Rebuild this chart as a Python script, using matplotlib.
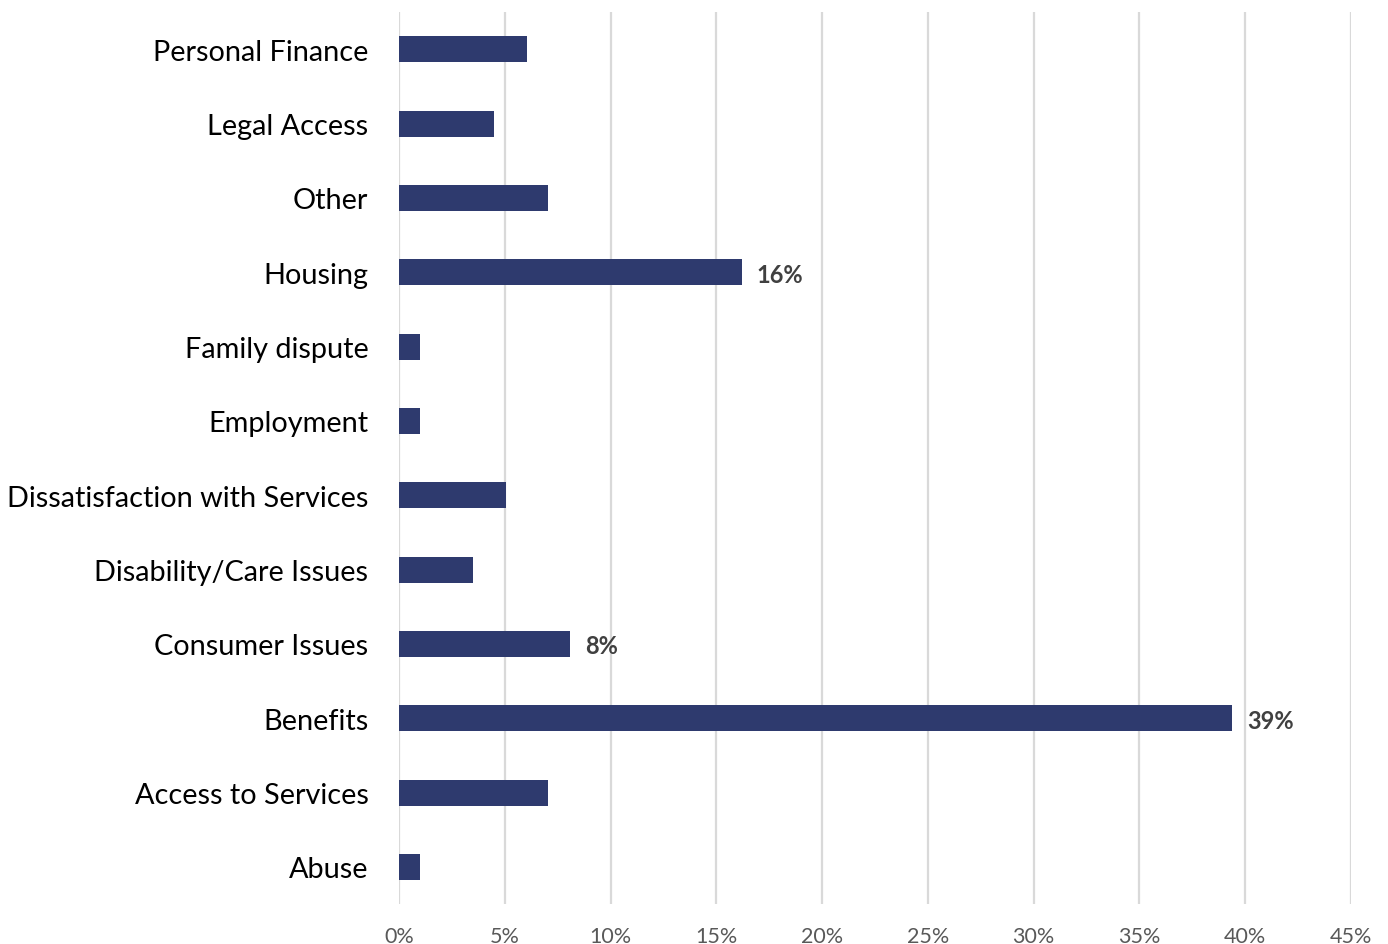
import matplotlib.pyplot as plt
from matplotlib.ticker import FuncFormatter

# issue categories, top to bottom
categories = ["Personal Finance", "Legal Access", "Other", "Housing", "Family dispute",
              "Employment", "Dissatisfaction with Services", "Disability/Care Issues",
              "Consumer Issues", "Benefits", "Access to Services", "Abuse"]
shares = [6.05, 4.5, 7.05, 16.2, 1.0, 1.0, 5.05, 3.5, 8.1, 39.4, 7.05, 1.0]
# only some bars carry a value label
labelled = {"Housing": "16%", "Consumer Issues": "8%", "Benefits": "39%"}
xticks = [0, 5, 10, 15, 20, 25, 30, 35, 40, 45]

plt.rcParams['font.family'] = ['Lato', 'DejaVu Sans']

fig = plt.figure(figsize=(13.88, 9.45), dpi=100)
ax = fig.add_axes([0.2875, 0.0423, 0.6858, 0.9439])

ypos = list(range(len(categories)))[::-1]
ax.barh(ypos, shares, height=0.35, color="#2E3A6E", zorder=3)

for y, v, c in zip(ypos, shares, categories):
    if c in labelled:
        ax.text(v + 0.7, y, labelled[c], va="center_baseline", ha="left",
                fontsize=17, fontweight="bold", color="#404040")

ax.set_xlim(0, 45)
ax.set_ylim(-0.5, len(categories) - 0.5)
ax.set_xticks(xticks)
ax.xaxis.set_major_formatter(FuncFormatter(lambda v, p: f"{v:.0f}%"))
ax.set_yticks(ypos)
ax.set_yticklabels(categories, fontsize=20.8, color="#000000")
ax.tick_params(axis="x", labelsize=15.5, labelcolor="#595959", length=0, pad=16)
ax.tick_params(axis="y", length=0, pad=22)
ax.grid(axis="x", color="#D9D9D9", linewidth=1.6, zorder=0)
for s in ax.spines.values():
    s.set_visible(False)

fig.savefig("out.png", dpi=100)
